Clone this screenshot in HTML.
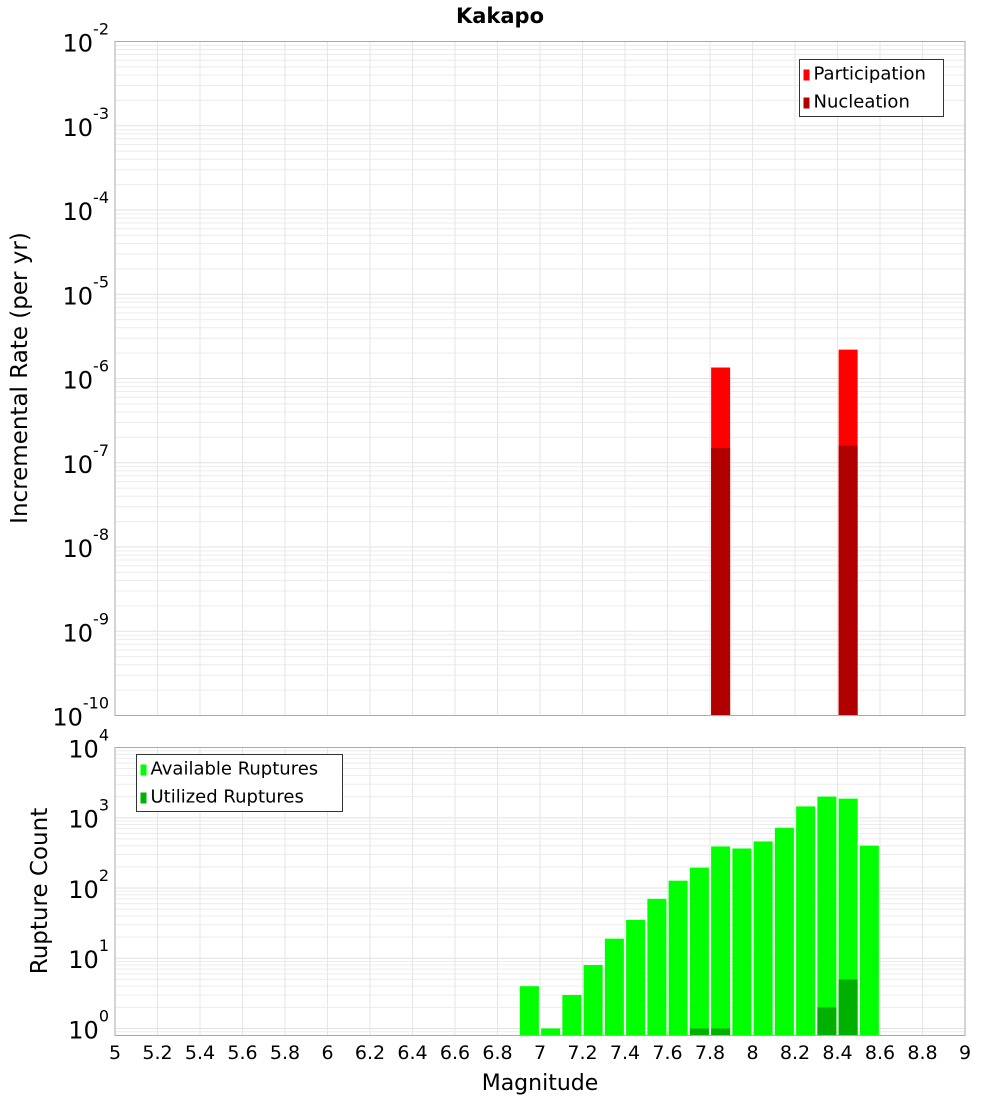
<!DOCTYPE html>
<html><head><meta charset="utf-8"><style>
body{margin:0;background:#fff;}
svg text{font-family:"DejaVu Sans","Liberation Sans",sans-serif;}
</style></head><body>
<svg id="chart" width="1000" height="1100" xmlns="http://www.w3.org/2000/svg">
<text x="500" y="23" text-anchor="middle" font-size="21" font-weight="bold">Kakapo</text>
<text transform="translate(27,378) rotate(-90)" text-anchor="middle" font-size="23">Incremental Rate (per yr)</text>
<text transform="translate(47,891) rotate(-90)" text-anchor="middle" font-size="23">Rupture Count</text>
<text x="540" y="1090" text-anchor="middle" font-size="22">Magnitude</text>
<g id="top"></g>
<g id="bot"></g>
</svg>
<script>
const magBins = [7.85, 8.45];
const participation = [1.35e-6, 2.2e-6];
const nucleation = [1.5e-7, 1.6e-7];
const countBins = [6.95,7.05,7.15,7.25,7.35,7.45,7.55,7.65,7.75,7.85,7.95,8.05,8.15,8.25,8.35,8.45,8.55];
const available = [4,1,3,8,19,35,70,127,195,390,365,460,720,1450,2000,1870,400];
const utilized = [0,0,0,0,0,0,0,0,1,1,0,0,0,0,2,5,0];
const xTicks = ["5","5.2","5.4","5.6","5.8","6","6.2","6.4","6.6","6.8","7","7.2","7.4","7.6","7.8","8","8.2","8.4","8.6","8.8","9"];
const topExps = [-2,-3,-4,-5,-6,-7,-8,-9,-10];
const botExps = [4,3,2,1,0];

const NS="http://www.w3.org/2000/svg";
const X0=115,X1=965;
const xs=m=>X0+(m-5)/4*(X1-X0);
function el(p,t,a){const e=document.createElementNS(NS,t);for(const k in a)e.setAttribute(k,a[k]);p.appendChild(e);return e;}
function panel(g,top,bot,lmax,lmin,exps){
  const ys=v=>top+(lmax-Math.log10(v))/(lmax-lmin)*(bot-top);
  for(let d=Math.floor(lmin);d<lmax;d++)for(let k=1;k<10;k++){const v=k*Math.pow(10,d);const y=ys(v);if(y<top||y>bot)continue;
    const l=el(g,'line',{x1:X0,x2:X1,y1:y,y2:y,stroke:k==1?'#e2e2e2':'#ececec','stroke-width':1});
    
    }
  xTicks.forEach(t=>{const x=xs(+t);const l=el(g,'line',{x1:x,x2:x,y1:top,y2:bot,stroke:'#e6e6e6'});
    
    });
  exps.forEach(e=>{const y=ys(Math.pow(10,e));
    const t=el(g,'text',{x:X0-6,y:y+10,'text-anchor':'end','font-size':24});
    
    
    const b=el(t,'tspan',{});b.textContent='10';
    const s=el(t,'tspan',{dy:-17,'font-size':16});s.textContent=String(e);});
  return ys;
}
const gt=document.getElementById('top'), gb=document.getElementById('bot');
const yt=panel(gt,41.5,715.5,-2,-10,topExps);
const bw=19;
magBins.forEach((m,i)=>{
  const x=xs(m)-bw/2;
  let r=el(gt,'rect',{x:x,y:yt(participation[i]),width:bw,height:715.5-yt(participation[i]),fill:'#ff0000'});
  
  
  r=el(gt,'rect',{x:x,y:yt(nucleation[i]),width:bw,height:715.5-yt(nucleation[i]),fill:'#b00000'});
  
  
});
el(gt,'rect',{x:X0,y:41.5,width:X1-X0,height:674,fill:'none',stroke:'#aaa'});
const yb=panel(gb,747.5,1035.5,4,-0.1,botExps);
countBins.forEach((m,i)=>{
  const x=xs(m)-9.5;
  let r=el(gb,'rect',{x:x,y:yb(available[i]),width:19,height:1035.5-yb(available[i]),fill:'#00ff00'});
  
  
  if(utilized[i]>0){r=el(gb,'rect',{x:x,y:yb(utilized[i]),width:19,height:1035.5-yb(utilized[i]),fill:'#00b000'});
  
  }
});
el(gb,'rect',{x:X0,y:747.5,width:X1-X0,height:288,fill:'none',stroke:'#aaa'});
xTicks.forEach(t=>{const e=el(gb,'text',{x:xs(+t),y:1059,'text-anchor':'middle','font-size':19});e.textContent=t;
  
  });
function legend(g,x,y,w,items){
  el(g,'rect',{x:x,y:y,width:w,height:57,fill:'#fff',stroke:'#333'});
  items.forEach((it,i)=>{el(g,'rect',{x:x+4,y:y+10+i*28,width:6,height:11,fill:it[1]});
    const t=el(g,'text',{x:x+14,y:y+20+i*28,'font-size':18});t.textContent=it[0];
    
    });
}
legend(gt,799.5,59.5,144,[['Participation','#ff0000'],['Nucleation','#b00000']]);
legend(gb,136.5,754.5,206,[['Available Ruptures','#00ff00'],['Utilized Ruptures','#00b000']]);
</script>
</body></html>
